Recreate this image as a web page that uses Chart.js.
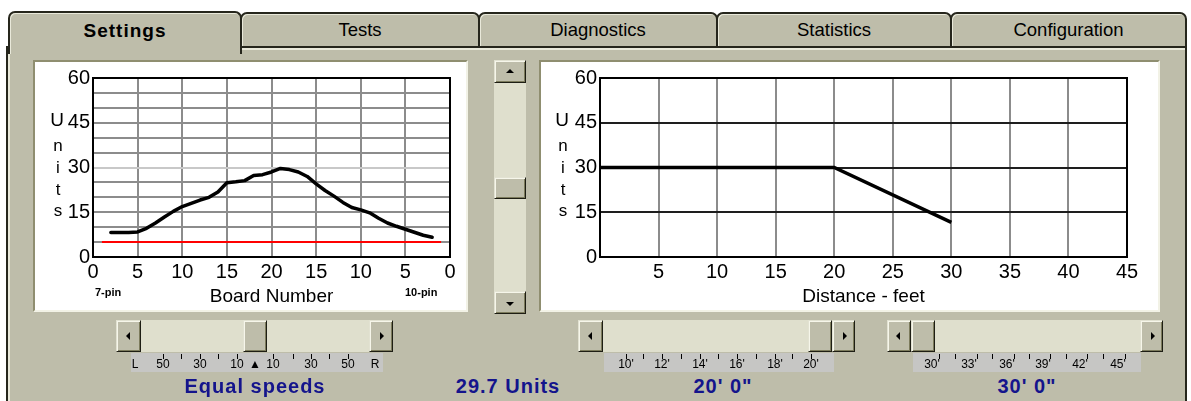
<!DOCTYPE html>
<html>
<head>
<meta charset="utf-8">
<script src="https://cdn.jsdelivr.net/npm/chart.js@4.4.0/dist/chart.umd.min.js"></script>
<style>
  body { margin: 0; width: 1191px; height: 401px; background: #fff; position: relative; overflow: hidden;
         font-family: "Liberation Sans", Arial, sans-serif; }
  .abs { position: absolute; box-sizing: border-box; }
  #body { left: 6px; top: 46px; width: 1181px; height: 360px; background: #bebdaa;
          border-left: 2px solid #26261c; border-top: 2px solid #26261c; border-right: 2px solid #26261c;
          box-shadow: inset 2px 2px 0 #e9e9da; }
  .tab { top: 12px; height: 36px; background: #bebdaa; border: 2px solid #26261c; border-bottom-width: 2px;
         border-radius: 7px 7px 0 0; box-shadow: inset 1px 1px 0 #e9e9da;
         font-size: 18.5px; text-align: center; line-height: 31px; color: #000; }
  #tabSettings { left: 8px; top: 11px; width: 234px; height: 43px; border-bottom: none; z-index: 3;
                 font-weight: bold; font-size: 19px; letter-spacing: 1px; line-height: 35px; }
  .panel { background: #fff; border: 2px solid; border-color: #8f8e70 #f2f2e6 #f2f2e6 #8f8e70; }
  .track { background: #dfdfcd; }
  .btn { background: #bebdaa; border: 1px solid; border-color: #e2e2d2 #1e1e14 #1e1e14 #e2e2d2;
         box-shadow: inset 1px 1px 0 #f6f6ea, inset -1px -1px 0 #7c7b5c; }
  .arr { position: absolute; width: 0; height: 0; left: 50%; top: 50%; }
  .aL { border-top: 4px solid transparent; border-bottom: 4px solid transparent; border-right: 4px solid #000; margin: -4px 0 0 -3px; }
  .aR { border-top: 4px solid transparent; border-bottom: 4px solid transparent; border-left: 4px solid #000; margin: -4px 0 0 -1px; }
  .aU { border-left: 4px solid transparent; border-right: 4px solid transparent; border-bottom: 4px solid #000; margin: -3px 0 0 -4px; }
  .aD { border-left: 4px solid transparent; border-right: 4px solid transparent; border-top: 4px solid #000; margin: -1px 0 0 -4px; }
  .strip { top: 353px; height: 19px; background: #c6c6c4; }
  .sl { position: absolute; top: 3px; font-size: 12px; line-height: 16px; transform: translateX(-50%); color: #000; }
  .tk { position: absolute; top: 1px; width: 1px; height: 5px; background: #000; }
  .units { font-size: 17px; text-align: center; width: 14px; line-height: 18px; color: #000; }
  .pin { font-size: 11px; font-weight: bold; color: #000; }
  .big { top: 375px; font-size: 20px; font-weight: bold; color: #14148c; letter-spacing: 1px;
         transform: translateX(-50%); white-space: nowrap; }
</style>
</head>
<body>
<div id="body" class="abs"></div>

<div class="abs tab" style="left:240px;width:240px;">Tests</div>
<div class="abs tab" style="left:478px;width:240px;">Diagnostics</div>
<div class="abs tab" style="left:716px;width:236px;">Statistics</div>
<div class="abs tab" style="left:950px;width:237px;">Configuration</div>
<div id="tabSettings" class="abs tab">Settings</div>

<div class="abs panel" style="left:33px;top:60px;width:435px;height:252px;"></div>
<div class="abs panel" style="left:539px;top:60px;width:621px;height:252px;"></div>
<canvas id="leftChart" class="abs" width="431" height="248" style="left:35px;top:62px;"></canvas>
<canvas id="rightChart" class="abs" width="617" height="248" style="left:541px;top:62px;"></canvas>

<!-- stacked axis titles -->
<div class="abs units" style="left:50px;top:111px;font-size:19px;">U</div>
<div class="abs units" style="left:51px;top:137px;">n</div>
<div class="abs units" style="left:51px;top:159px;">i</div>
<div class="abs units" style="left:51px;top:181px;">t</div>
<div class="abs units" style="left:51px;top:202px;">s</div>
<div class="abs units" style="left:555px;top:111px;font-size:19px;">U</div>
<div class="abs units" style="left:556px;top:137px;">n</div>
<div class="abs units" style="left:556px;top:159px;">i</div>
<div class="abs units" style="left:556px;top:181px;">t</div>
<div class="abs units" style="left:556px;top:202px;">s</div>
<div class="abs pin" style="left:95px;top:286px;">7-pin</div>
<div class="abs pin" style="left:405px;top:286px;">10-pin</div>

<!-- vertical scrollbar -->
<div class="abs track" style="left:494px;top:60px;width:32px;height:254px;"></div>
<div class="abs btn" style="left:494px;top:60px;width:32px;height:23px;"><div class="arr aU"></div></div>
<div class="abs btn" style="left:494px;top:177px;width:32px;height:22px;"></div>
<div class="abs btn" style="left:494px;top:291px;width:32px;height:23px;"><div class="arr aD"></div></div>

<!-- horizontal scrollbars -->
<div class="abs track" style="left:116px;top:320px;width:277px;height:32px;"></div>
<div class="abs btn" style="left:116px;top:320px;width:25px;height:32px;"><div class="arr aL"></div></div>
<div class="abs btn" style="left:243px;top:320px;width:24px;height:32px;"></div>
<div class="abs btn" style="left:369px;top:320px;width:24px;height:32px;"><div class="arr aR"></div></div>

<div class="abs track" style="left:578px;top:320px;width:277px;height:32px;"></div>
<div class="abs btn" style="left:578px;top:320px;width:25px;height:32px;"><div class="arr aL"></div></div>
<div class="abs btn" style="left:808px;top:320px;width:24px;height:32px;"></div>
<div class="abs btn" style="left:832px;top:320px;width:23px;height:32px;"><div class="arr aR"></div></div>

<div class="abs track" style="left:887px;top:320px;width:276px;height:32px;"></div>
<div class="abs btn" style="left:887px;top:320px;width:24px;height:32px;"><div class="arr aL"></div></div>
<div class="abs btn" style="left:911px;top:320px;width:24px;height:32px;"></div>
<div class="abs btn" style="left:1140px;top:320px;width:23px;height:32px;"><div class="arr aR"></div></div>

<!-- scale strips -->
<div class="abs strip" id="stripL" style="left:131px;width:252px;"></div>
<div class="abs strip" id="stripM" style="left:604px;width:230px;"></div>
<div class="abs strip" id="stripR" style="left:913px;width:228px;"></div>

<div class="abs big" style="left:255px;">Equal speeds</div>
<div class="abs big" style="left:508px;">29.7 Units</div>
<div class="abs big" style="left:723px;">20' 0"</div>
<div class="abs big" style="left:1027px;">30' 0"</div>

<script>
// left chart: lane profile, board 0..20..0 drawn on a 0-40 scale
const boardPos = [2, 3, 4, 5, 6, 7, 8, 9, 10, 11, 12, 13, 14, 15, 16, 17, 18, 19, 20,
  21, 22, 23, 24, 25, 26, 27, 28, 29, 30, 31, 32, 33, 34, 35, 36, 37, 38];
const unitsByBoard = [8.2, 8.2, 8.2, 8.4, 9.6, 11.4, 13.4, 15.3, 16.9, 18.0, 19.1, 20.0, 21.8, 24.9, 25.2, 25.6, 27.3, 27.6, 28.5,
  29.7, 29.3, 28.5, 27.0, 24.5, 22.3, 20.4, 18.3, 16.6, 15.8, 14.8, 13.0, 11.4, 10.3, 9.3, 8.3, 7.3, 6.6];
const minLineX = [1, 39];
const minLineY = [5, 5];
const boardLabels = ["0", "5", "10", "15", "20", "15", "10", "5", "0"];
const unitLabels = ["0", "15", "30", "45", "60"];

// right chart: units against distance
const distFeet = [0, 20, 30];
const unitsByDistance = [30, 30, 11.6];
const distLabels = ["", "5", "10", "15", "20", "25", "30", "35", "40", "45"];

// scales under the scrollbars
const speedMarks = ["L", "50", "30", "10", "\u25B2", "10", "30", "50", "R"];
const speedMarkX = [4, 32, 69, 106, 124, 142, 180, 217, 244];
const startMarks = ["10'", "12'", "14'", "16'", "18'", "20'"];
const startMarkX = [22, 58, 96, 133, 171, 207];
const endMarks = ["30'", "33'", "36'", "39'", "42'", "45'"];
const endMarkX = [19, 56, 94, 130, 167, 205];

Chart.defaults.font.family = "'Liberation Sans', Arial, sans-serif";
Chart.defaults.color = "#000";

function fillStrip(id, labels, xs, ticks) {
  const strip = document.getElementById(id);
  labels.forEach((txt, i) => {
    const s = document.createElement("span");
    s.className = "sl";
    s.style.left = xs[i] + "px";
    s.textContent = txt;
    strip.appendChild(s);
  });
  ticks.forEach((x) => {
    const t = document.createElement("span");
    t.className = "tk";
    t.style.left = x + "px";
    strip.appendChild(t);
  });
}
fillStrip("stripL", speedMarks, speedMarkX, [32, 50, 69, 87, 106, 142, 162, 180, 198, 217]);
fillStrip("stripM", startMarks, startMarkX, [22, 39, 58, 77, 96, 114, 133, 152, 171, 188, 207]);
fillStrip("stripR", endMarks, endMarkX, [26, 42, 64, 79, 101, 116, 137, 153, 174, 190, 212]);

const frameBox = {
  id: "frameBox",
  beforeDatasetsDraw(chart) {
    const a = chart.chartArea;
    const c = chart.ctx;
    c.save();
    c.strokeStyle = "#000";
    c.lineWidth = 2;
    c.strokeRect(a.left, a.top, a.right - a.left, a.bottom - a.top);
    c.restore();
  },
};

function toPoints(xs, ys) {
  return xs.map((x, i) => ({ x: x, y: ys[i] }));
}

new Chart(document.getElementById("leftChart"), {
  type: "line",
  data: {
    datasets: [
      { data: toPoints(minLineX, minLineY), borderColor: "#ff0000", borderWidth: 2, pointRadius: 0 },
      { data: toPoints(boardPos, unitsByBoard), borderColor: "#000", borderWidth: 3.5, pointRadius: 0,
        borderJoinStyle: "round", borderCapStyle: "round" },
    ],
  },
  options: {
    responsive: false,
    animation: false,
    devicePixelRatio: 1,
    layout: { padding: { top: 16, right: 16, left: 0, bottom: 0 } },
    plugins: { legend: { display: false }, tooltip: { enabled: false } },
    scales: {
      x: {
        type: "linear", min: 0, max: 40,
        ticks: { stepSize: 5, autoSkip: false, maxRotation: 0, padding: 3, font: { size: 20 },
                 callback: (v) => boardLabels[v / 5] },
        grid: { color: "#8c8c8c", lineWidth: 2, drawTicks: false },
        border: { display: false },
        title: { display: true, text: "Board Number", font: { size: 19 }, padding: { top: 0, bottom: 2 } },
        afterFit: (s) => { s.height = 53; },
      },
      y: {
        min: 0, max: 60,
        ticks: { stepSize: 5, autoSkip: false, padding: 3, font: { size: 20 },
                 callback: (v) => (v % 15 === 0 ? unitLabels[v / 15] : "") },
        grid: { color: (ctx) => (ctx.tick && ctx.tick.value === 30 ? "#c8c8c8" : "#8c8c8c"), lineWidth: 2, drawTicks: false },
        border: { display: false },
        afterFit: (s) => { s.width = 58; },
      },
    },
  },
  plugins: [frameBox],
});

new Chart(document.getElementById("rightChart"), {
  type: "line",
  data: {
    datasets: [
      { data: toPoints(distFeet, unitsByDistance), borderColor: "#000", borderWidth: 3.5, pointRadius: 0 },
    ],
  },
  options: {
    responsive: false,
    animation: false,
    devicePixelRatio: 1,
    layout: { padding: { top: 16, right: 31, left: 0, bottom: 0 } },
    plugins: { legend: { display: false }, tooltip: { enabled: false } },
    scales: {
      x: {
        type: "linear", min: 0, max: 45,
        ticks: { stepSize: 5, autoSkip: false, maxRotation: 0, padding: 3, font: { size: 20 },
                 callback: (v) => distLabels[v / 5] },
        grid: { color: "#8c8c8c", lineWidth: 2, drawTicks: false },
        border: { display: false },
        title: { display: true, text: "Distance - feet", font: { size: 19 }, padding: { top: 0, bottom: 2 } },
        afterFit: (s) => { s.height = 53; },
      },
      y: {
        min: 0, max: 60,
        ticks: { stepSize: 15, autoSkip: false, padding: 3, font: { size: 20 },
                 callback: (v) => unitLabels[v / 15] },
        grid: { color: "#1e1e1e", lineWidth: 2, drawTicks: false },
        border: { display: false },
        afterFit: (s) => { s.width = 59; },
      },
    },
  },
  plugins: [frameBox],
});
</script>
</body>
</html>
